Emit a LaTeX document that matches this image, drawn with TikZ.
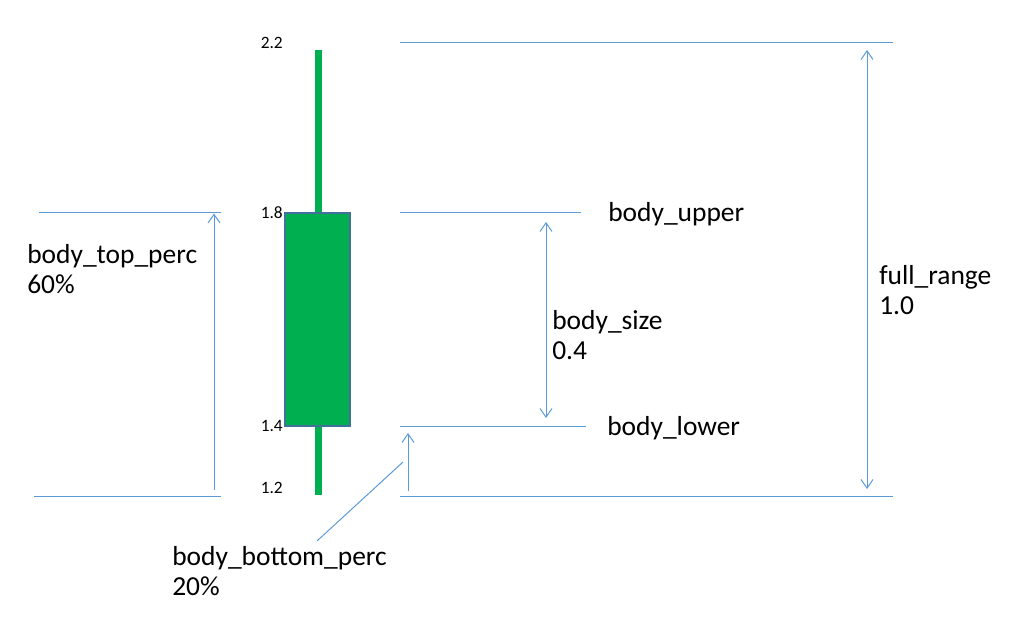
\documentclass[tikz,border=0pt]{standalone}
\usepackage{fontspec}
\setmainfont{Carlito}
\usetikzlibrary{arrows.meta}
\definecolor{candlegreen}{HTML}{00B050}
\definecolor{candleedge}{HTML}{41719C}
\definecolor{guideblue}{HTML}{5B9BD5}
\begin{document}
\begin{tikzpicture}[x=0.75pt,y=-0.75pt,
  guide/.style={guideblue,line width=0.75pt},
  dimup/.style={guide,-{Straight Barb[length=6.5pt,width=9pt]}},
  dimboth/.style={guide,{Straight Barb[length=6.5pt,width=9pt]}-{Straight Barb[length=6.5pt,width=9pt]}},
  label/.style={font=\fontsize{20.6}{22.5}\selectfont,anchor=base west,inner sep=0pt,align=left},
  price/.style={font=\fontsize{13}{15}\selectfont,anchor=base east,inner sep=0pt}]
\useasboundingbox (0,0) rectangle (1023,634);

\begin{scope}
% candle
\fill[candlegreen] (315,50) rectangle (322,495);
\draw[candleedge,fill=candlegreen,line width=1.5pt] (285,213) rectangle (350,426);

\node[price] (p22) at (283,49) {2.2};
\node[price] (p18) at (283,219) {1.8};
\node[price] (p14) at (283,431) {1.4};
\node[price] (p12) at (283,493) {1.2};
\end{scope}

\begin{scope}
\coordinate (hi1) at (400,42.5);
\coordinate (hi2) at (893,42.5);
\coordinate (up1) at (400,213);
\coordinate (up2) at (581,213);
\coordinate (lo1) at (400,426);
\coordinate (lo2) at (586,426);
\coordinate (bot1) at (400,496);
\coordinate (bot2) at (893,496);
\coordinate (lt1) at (39,212.5);
\coordinate (lt2) at (221,212.5);
\coordinate (lb1) at (34,496);
\coordinate (lb2) at (221,496);

\draw[guide] (hi1) -- (hi2);
\draw[guide] (up1) -- (up2);
\draw[guide] (lo1) -- (lo2);
\draw[guide] (bot1) -- (bot2);
\draw[guide] (lt1) -- (lt2);
\draw[guide] (lb1) -- (lb2);

\coordinate (tp1) at (214,490);
\coordinate (tp2) at (214,213.5);
\coordinate (sz1) at (546,222);
\coordinate (sz2) at (546,418);
\coordinate (fr1) at (867,50);
\coordinate (fr2) at (867,489);
\coordinate (bp1) at (408,491);
\coordinate (bp2) at (408,433);
\coordinate (ld1) at (403,462);
\coordinate (ld2) at (317,541);

\draw[dimup] (tp1) -- (tp2);
\draw[dimboth] (sz1) -- (sz2);
\draw[dimboth] (fr1) -- (fr2);
\draw[dimup] (bp1) -- (bp2);
\draw[guide] (ld1) -- (ld2);

\node[label] (toplbl) at (27,294) {body\_top\_perc\\60\%};
\node[label] (upperlbl) at (608,222) {body\_upper};
\node[label] (sizelbl) at (552,359) {body\_size\\0.4};
\node[label] (lowerlbl) at (607,435) {body\_lower};
\node[label] (rangelbl) at (879,315) {full\_range\\1.0};
\node[label] (bottomlbl) at (172,595) {body\_bottom\_perc\\20\%};
\end{scope}

\end{tikzpicture}
\end{document}
